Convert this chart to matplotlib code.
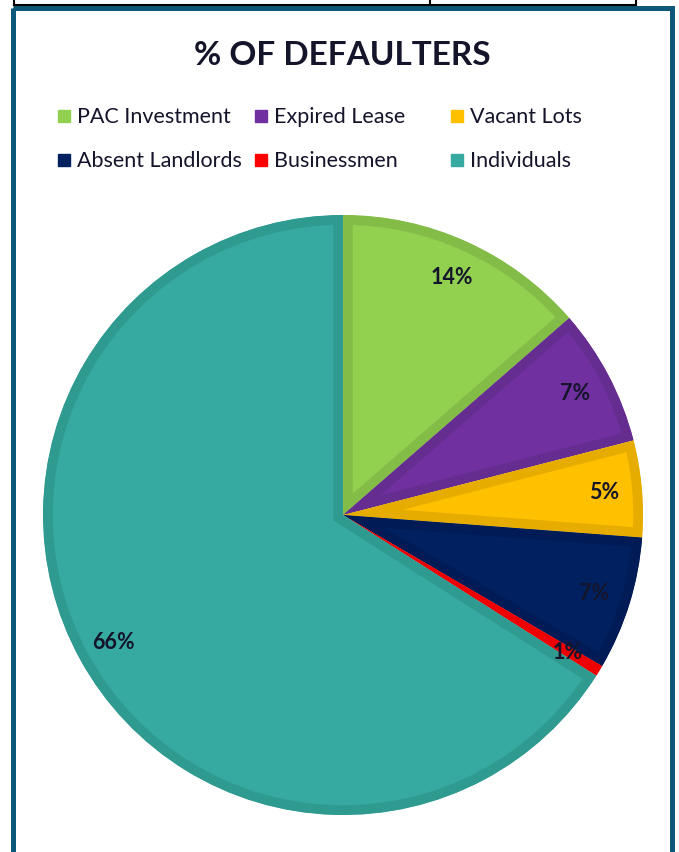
"""Pie chart of defaulters by category."""
import matplotlib
matplotlib.use("Agg")
from matplotlib import pyplot as plt
from matplotlib.patches import Rectangle

# data
categories = ["PAC Investment", "Expired Lease", "Vacant Lots",
              "Absent Landlords", "Businessmen", "Individuals"]
shares = [13.6, 7.4, 5.2, 7.2, 0.6, 66.0]
fill_colors = ["#92d050", "#7030a0", "#ffc000", "#002060", "#ff0000", "#36a9a0"]
edge_colors = ["#84bc48", "#662d91", "#e6ad00", "#001b55", "#ee0000", "#2f9a8f"]

W, H = 679, 853
TEXT = "#14142b"

fig = plt.figure(figsize=(W / 100, H / 100), dpi=100)
fig.patch.set_facecolor("white")

# background axes in pixel coordinates for the frame, title and legend
bg = fig.add_axes([0, 0, 1, 1])
bg.set_xlim(0, W)
bg.set_ylim(H, 0)
bg.axis("off")

# bit of table above the chart
bg.plot([14, 636], [5.5, 5.5], color="black", lw=1.5)
for x in [14, 430, 636]:
    bg.plot([x, x], [0, 6], color="black", lw=1.5)

# chart frame
bg.add_patch(Rectangle((12.5, 9), 659, 870, fill=False,
                       edgecolor="#0c5878", lw=3.6))

bg.text(342, 55, "% OF DEFAULTERS", ha="center", va="center",
        fontsize=24, fontweight="bold", family="Lato", color=TEXT)

# legend laid out like the original: fixed column width
for i, (name, color) in enumerate(zip(categories, fill_colors)):
    row, col = i // 3, i % 3
    x = 58 + col * 196.5
    y = 117 + row * 44
    bg.add_patch(Rectangle((x, y - 6), 12, 12, color=color))
    bg.text(x + 19, y, name, ha="left", va="center", fontsize=15.5,
            family="Lato", color=TEXT)

# pie, center (343, 516) and radius 300 px
cx, cy, r = 343, 516, 300
ax = fig.add_axes([(cx - r) / W, (H - cy - r) / H, 2 * r / W, 2 * r / H])
wedges, _, autotexts = ax.pie(
    shares, colors=fill_colors, startangle=90, counterclock=False,
    autopct=lambda p: f"{p:.0f}%", pctdistance=0.875,
    textprops=dict(fontsize=15.5, fontweight="bold", family="Lato", color=TEXT),
)
# border drawn inside each slice only
for w, ec in zip(wedges, edge_colors):
    w.set_edgecolor(ec)
    w.set_linewidth(14)
    w.set_clip_on(True)
    w.set_clip_path(w)
ax.set_xlim(-1, 1)
ax.set_ylim(-1, 1)
ax.set_aspect("equal")
ax.axis("off")

fig.savefig("out.png", dpi=100)
